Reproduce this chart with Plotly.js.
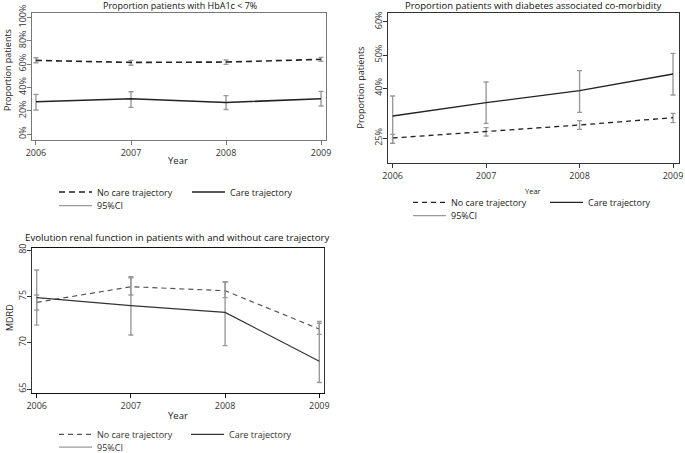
<!DOCTYPE html>
<html>
<head>
<meta charset="utf-8">
<script src="https://cdn.plot.ly/plotly-3.0.1.min.js"></script>
<style>html,body{margin:0;padding:0;background:#fff;}#chart{width:685px;height:453px;}</style>
</head>
<body>
<div id="chart"></div>
<script>
// ---- data ----
const years = [2006, 2007, 2008, 2009];
const yearTicks = ['2006', '2007', '2008', '2009'];

// Panel 1: HbA1c < 7% (percent)
const hbNoCare   = [63.1, 61.4, 61.7, 64.0];
const hbNoCareLo = [61.1, 58.9, 59.7, 62.3];
const hbNoCareHi = [65.4, 63.1, 63.4, 65.7];
const hbCare     = [27.7, 30.3, 27.1, 30.3];
const hbCareLo   = [20.6, 22.9, 21.1, 24.0];
const hbCareHi   = [34.0, 36.3, 32.9, 36.6];
const hbTicks    = [0, 20, 40, 60, 80, 100];

// Panel 2: diabetes associated co-morbidity (percent)
const cmNoCare   = [25.1, 27.0, 29.0, 31.2];
const cmNoCareLo = [23.5, 25.7, 27.7, 29.7];
const cmNoCareHi = [26.2, 28.2, 30.3, 32.5];
const cmCare     = [31.7, 35.7, 39.3, 44.3];
const cmCareLo   = [23.5, 29.5, 32.8, 38.0];
const cmCareHi   = [37.7, 41.9, 45.3, 50.5];
const cmTicks    = [25, 40, 50, 60];

// Panel 3: renal function (MDRD)
const mdNoCare   = [74.35, 76.04, 75.61, 71.47];
const mdNoCareLo = [73.53, 75.14, 74.86, 70.90];
const mdNoCareHi = [75.14, 77.01, 76.51, 72.10];
const mdCare     = [74.86, 74.00, 73.27, 68.00];
const mdCareLo   = [71.90, 70.83, 69.68, 65.70];
const mdCareHi   = [77.84, 77.12, 76.58, 72.30];
const mdTicks    = [65, 70, 75, 80];

const labelNoCare = 'No care trajectory';
const labelCare = 'Care trajectory';
const labelCI = '95%CI';

// ---- helpers ----
const W = 685, H = 453;
const px = v => v / W;
const py = v => 1 - v / H;
const FONT = 'Open Sans, Noto Sans, sans-serif';
const up = (m, hi) => hi.map((h, i) => h - m[i]);
const dn = (m, lo) => lo.map((l, i) => m[i] - l);
const err = (m, lo, hi) => ({type: 'data', symmetric: false, array: up(m, hi), arrayminus: dn(m, lo),
  color: '#9a9a9a', thickness: 1.4, width: 2.5});

function series(xa, ya, m, lo, hi, name, line, legend) {
  return {x: years, y: m, xaxis: xa, yaxis: ya, type: 'scatter', mode: 'lines', name: name,
    line: line, error_y: err(m, lo, hi), legend: legend, hoverinfo: 'skip'};
}
function ciKey(xa, ya, legend) {
  return {x: [null], y: [null], xaxis: xa, yaxis: ya, type: 'scatter', mode: 'lines', name: labelCI,
    line: {color: '#9a9a9a', width: 1.2}, legend: legend, hoverinfo: 'skip'};
}

const traces = [
  series('x', 'y', hbNoCare, hbNoCareLo, hbNoCareHi, labelNoCare, {color: '#222', width: 1.6, dash: '6px,4px'}, 'legend'),
  series('x', 'y', hbCare, hbCareLo, hbCareHi, labelCare, {color: '#222', width: 1.6}, 'legend'),
  ciKey('x', 'y', 'legend2'),
  series('x2', 'y2', cmNoCare, cmNoCareLo, cmNoCareHi, labelNoCare, {color: '#222', width: 1.3, dash: '5px,4px'}, 'legend3'),
  series('x2', 'y2', cmCare, cmCareLo, cmCareHi, labelCare, {color: '#222', width: 1.3}, 'legend3'),
  ciKey('x2', 'y2', 'legend4'),
  series('x3', 'y3', mdNoCare, mdNoCareLo, mdNoCareHi, labelNoCare, {color: '#555', width: 1.2, dash: '5px,4px'}, 'legend5'),
  series('x3', 'y3', mdCare, mdCareLo, mdCareHi, labelCare, {color: '#333', width: 1.2}, 'legend5'),
  ciKey('x3', 'y3', 'legend6')
];

function xax(domain, range, lc, lw) {
  return {domain: domain, range: range, tickvals: years, ticktext: yearTicks, ticks: 'outside', ticklen: 4,
    tickcolor: lc, showline: true, linecolor: lc, linewidth: lw, mirror: true, showgrid: false, zeroline: false,
    tickfont: {family: FONT, size: 9, color: '#333'}, fixedrange: true};
}
function yax(domain, range, tv, suffix, lc, anchor) {
  return {domain: domain, range: range, tickvals: tv, ticktext: tv.map(v => v + suffix), tickangle: -90,
    ticks: 'outside', ticklen: 4, tickcolor: lc, showline: true, linecolor: lc, linewidth: 1, mirror: true,
    ticklabelstandoff: -3,
    showgrid: false, zeroline: false, tickfont: {family: FONT, size: 9, color: '#333'}, anchor: anchor, fixedrange: true};
}
function leg(x, top, ew, color) {
  return {x: px(x), y: py(top), xanchor: 'left', yanchor: 'top', orientation: 'h', itemwidth: 33,
    entrywidth: ew, entrywidthmode: 'pixels', bgcolor: 'rgba(0,0,0,0)', borderwidth: 0,
    font: {family: FONT, size: 9, color: color || '#222'}, itemclick: false, itemdoubleclick: false};
}
function note(text, x, y, size, angle, color) {
  return {text: text, x: px(x), y: py(y), xref: 'paper', yref: 'paper', showarrow: false,
    xanchor: 'center', yanchor: 'middle', textangle: angle || 0,
    font: {family: FONT, size: size, color: color || '#111'}};
}

const layout = {
  width: W, height: H, margin: {l: 0, r: 0, t: 0, b: 0, autoexpand: false}, paper_bgcolor: '#fff', plot_bgcolor: '#fff',
  font: {family: FONT}, showlegend: true,
  xaxis:  Object.assign(xax([px(31.7), px(325.7)], [2005.955, 2009.049], '#777', 1), {anchor: 'y'}),
  yaxis:  yax([py(140), py(12.7)], [-5.1, 104], hbTicks, '%', '#777', 'x'),
  xaxis2: Object.assign(xax([px(388), px(679)], [2005.95, 2009.064], '#333', 1), {anchor: 'y2'}),
  yaxis2: yax([py(163), py(13)], [17.6, 62.6], cmTicks, '%', '#333', 'x2'),
  xaxis3: Object.assign(xax([px(31.7), px(324.3)], [2005.947, 2009.053], '#111', 1.4), {anchor: 'y3'}),
  yaxis3: yax([py(393), py(248)], [64.57, 80.22], mdTicks, '', '#333', 'x3'),
  legend:  leg(54, 177.5, 85),
  legend2: leg(54, 191.2, 85),
  legend3: leg(408, 187.8, 89),
  legend4: leg(408, 201.2, 89),
  legend5: leg(54, 419.8, 84, '#333'),
  legend6: leg(54, 432.6, 84, '#333'),
  annotations: [
    note('Proportion patients with HbA1c &lt; 7%', 180, 6, 9),
    note('Proportion patients with diabetes associated co-morbidity', 533.5, 6, 9.5),
    note('Evolution renal function in patients with and without care trajectory', 177.5, 237.7, 9.7),
    note('Proportion patients', 7, 70, 9, -90, '#222'),
    note('Proportion patients', 360, 87.5, 9, -90, '#222'),
    note('MDRD', 9, 318, 9, -90, '#222'),
    note('Year', 178, 160.5, 9.5, 0, '#222'),
    note('Year', 533, 191, 7.5, 0, '#222'),
    note('Year', 178, 415, 9.5, 0, '#222')
  ]
};

Plotly.newPlot('chart', traces, layout, {staticPlot: true, displayModeBar: false});
</script>
</body>
</html>
